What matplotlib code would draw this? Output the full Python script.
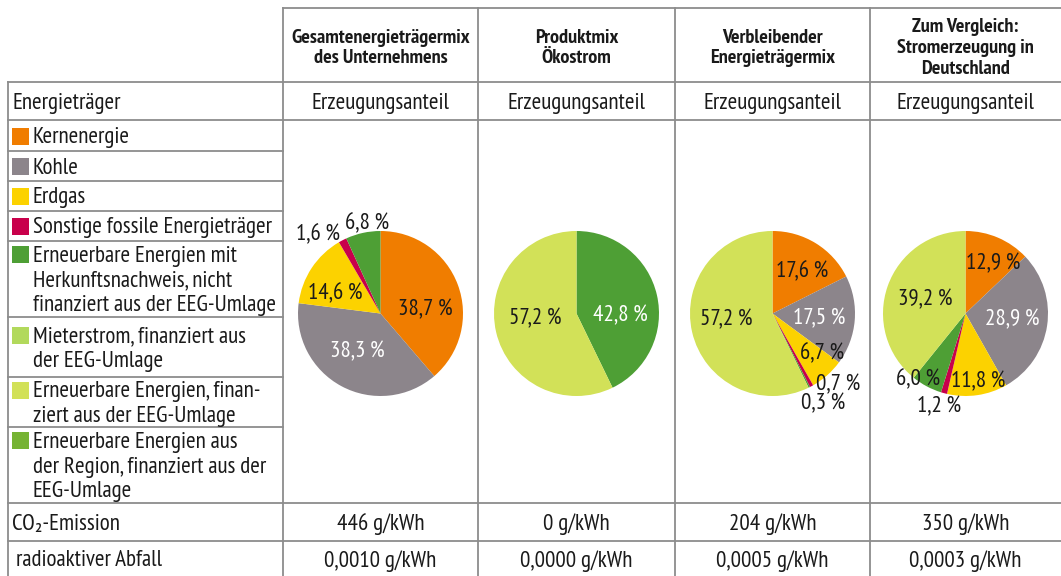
import matplotlib
matplotlib.use("Agg")
import matplotlib.pyplot as plt
from matplotlib.patches import Rectangle

# --- data -------------------------------------------------------------
columns = ["Gesamtenergieträgermix\ndes Unternehmens",
           "Produktmix\nÖkostrom",
           "Verbleibender\nEnergieträgermix",
           "Zum Vergleich:\nStromerzeugung in\nDeutschland"]
categories = ["Kernenergie",
              "Kohle",
              "Erdgas",
              "Sonstige fossile Energieträger",
              "Erneuerbare Energien mit\nHerkunftsnachweis, nicht\nfinanziert aus der EEG-Umlage",
              "Mieterstrom, finanziert aus\nder EEG-Umlage",
              "Erneuerbare Energien, finan-\nziert aus der EEG-Umlage",
              "Erneuerbare Energien aus\nder Region, finanziert aus der\nEEG-Umlage"]
colors = ["#f07d00", "#8c858b", "#fcd200", "#c8004b",
          "#4e9f35", "#b2d95c", "#d2e158", "#76b333"]

gesamt = [38.7, 38.3, 14.6, 1.6, 6.8, 0, 0, 0]
oekostrom = [0, 0, 0, 0, 42.8, 0, 57.2, 0]
verbleibend = [17.6, 17.5, 6.7, 0.7, 0.3, 0, 57.2, 0]
deutschland = [12.9, 28.9, 11.8, 1.2, 6.0, 0, 39.2, 0]
mixes = [gesamt, oekostrom, verbleibend, deutschland]

co2 = [446, 0, 204, 350]
abfall = [0.0010, 0.0000, 0.0005, 0.0003]

# --- layout (pixels) -------------------------------------------------
W, H = 1061, 576
col_x = [8, 283, 478, 675, 870, 1061]
legend_rows = [120, 151, 181, 211, 241, 317, 377, 427, 503]
pie_cy, pie_r = 313.5, 82.5

label_pos = [
    [(44.5, -6), (-23.5, 36), (-45.5, -22), (-63, -81), (-13.5, -92)],
    [(43.5, 0), (-41.5, 3.5)],
    [(30, -43.5), (47, 3.5), (50, 38.5), (66, 69.5), (51, 88.5), (-46, 4.5)],
    [(27.5, -51.5), (46.5, 4.5), (12.5, 66.5), (-26.5, 91.5), (-47.5, 64.5), (-40.5, -15.5)],
]
label_col = [["k", "w", "k", "k", "k"],
             ["w", "k"],
             ["k", "w", "k", "k", "k", "k"],
             ["k", "w", "k", "k", "k", "k"]]

plt.rcParams["font.family"] = ["PT Sans Narrow", "IBM Plex Sans Condensed", "DejaVu Sans"]
txt = "#1a1a1a"
grid = "#8c8c8c"
fs = 16.6
dy_txt = 2  # va=center sits a bit high for this font

fig = plt.figure(figsize=(W / 100, H / 100), dpi=100)
ax = fig.add_axes([0, 0, 1, 1])
ax.set_xlim(0, W)
ax.set_ylim(H, 0)
ax.axis("off")

# grid lines
lw = 1.3
ax.plot([col_x[1], W], [8, 8], color=grid, lw=lw)
for y in [82, 120, 503, 541]:
    ax.plot([col_x[0], W], [y, y], color=grid, lw=lw)
for y in legend_rows[1:-1]:
    ax.plot([col_x[0], col_x[1]], [y, y], color=grid, lw=lw)
ax.plot([col_x[0], col_x[0]], [82, H], color=grid, lw=lw)
for x in col_x[1:5]:
    ax.plot([x, x], [8, H], color=grid, lw=lw)

# header
for i, name in enumerate(columns):
    xc = (col_x[i + 1] + col_x[i + 2]) / 2
    ax.text(xc, 46 + dy_txt, name, ha="center", va="center", fontsize=14.6,
            fontweight="bold", color=txt, linespacing=1.2)
    ax.text(xc, 101 + dy_txt, "Erzeugungsanteil", ha="center", va="center",
            fontsize=fs, color=txt)
    ax.text(xc, 522 + dy_txt, f"{co2[i]} g/kWh", ha="center", va="center",
            fontsize=fs, color=txt)
    ax.text(xc, 559 + dy_txt, f"{abfall[i]:.4f} g/kWh".replace(".", ","),
            ha="center", va="center", fontsize=fs, color=txt)

ax.text(12, 101 + dy_txt, "Energieträger", ha="left", va="center", fontsize=fs, color=txt)
ax.text(12, 522 + dy_txt, "CO\u2082-Emission", ha="left", va="center", fontsize=fs, color=txt)
ax.text(16, 559 + dy_txt, "radioaktiver Abfall", ha="left", va="center", fontsize=fs, color=txt)

# legend
line_h = 25
for i, cat in enumerate(categories):
    y0, y1 = legend_rows[i], legend_rows[i + 1]
    n = cat.count("\n") + 1
    yc = (y0 + y1) / 2
    first = yc - (n - 1) * line_h / 2
    ax.text(33, yc + dy_txt, cat, ha="left", va="center", fontsize=fs, color=txt,
            linespacing=1.2)
    ax.add_patch(Rectangle((12, first - 8), 17, 17, color=colors[i], lw=0))

# pies
for i, mix in enumerate(mixes):
    cx = (col_x[i + 1] + col_x[i + 2]) / 2
    vals = [v for v in mix if v > 0]
    cols = [c for v, c in zip(mix, colors) if v > 0]
    pax = fig.add_axes([(cx - pie_r) / W, 1 - (pie_cy + pie_r) / H,
                        2 * pie_r / W, 2 * pie_r / H])
    pax.pie(vals, colors=cols, startangle=90, counterclock=False, radius=1,
            wedgeprops=dict(linewidth=0))
    pax.set_xlim(-1, 1)
    pax.set_ylim(-1, 1)
    pax.axis("off")
    for v, (dx, dy), c in zip(vals, label_pos[i], label_col[i]):
        s = f"{v:.1f}\u2009%".replace(".", ",")
        pax.text(dx / pie_r, -(dy + dy_txt) / pie_r, s, ha="center", va="center",
                 fontsize=fs, color="white" if c == "w" else txt, clip_on=False)

fig.savefig("out.png", dpi=100)
